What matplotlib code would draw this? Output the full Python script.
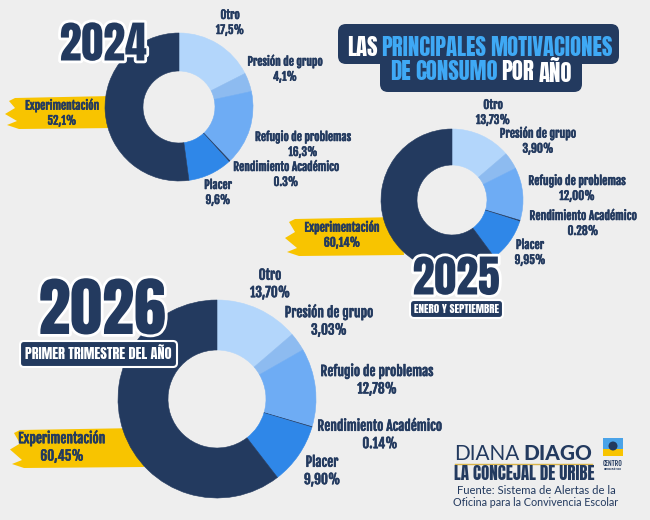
import numpy as np
import matplotlib.pyplot as plt
from matplotlib.patches import FancyBboxPatch, Polygon, Rectangle, Circle
import matplotlib.patheffects as pe

# datos
categorias = ["Otro", "Presión de grupo", "Refugio de problemas",
              "Rendimiento Académico", "Placer", "Experimentación"]
valores_2024 = [17.5, 4.1, 16.3, 0.3, 9.6, 52.1]
valores_2025 = [13.73, 3.90, 12.00, 0.28, 9.95, 60.14]
valores_2026 = [13.70, 3.03, 12.78, 0.14, 9.90, 60.45]
etiquetas_2024 = ["17,5%", "4,1%", "16,3%", "0.3%", "9,6%", "52,1%"]
etiquetas_2025 = ["13,73%", "3,90%", "12,00%", "0.28%", "9,95%", "60,14%"]
etiquetas_2026 = ["13,70%", "3,03%", "12,78%", "0.14%", "9,90%", "60,45%"]

W, H = 650, 520
NAVY = "#233a5f"
YELLOW = "#f8c400"
LIGHT = "#3fa9f5"
COLORES = ["#b3d6fb", "#8dbbf0", "#6eacf4", "#233a5f", "#2f87e8", "#233a5f"]
BIG = ["Anton", "Bebas Neue", "Oswald", "Roboto Condensed", "DejaVu Sans"]
LABEL = ["Fjalla One", "Oswald", "Roboto Condensed", "DejaVu Sans"]
FOOT = ["Lato", "DejaVu Sans"]

fig = plt.figure(figsize=(6.5, 5.2), dpi=100)
fig.patch.set_facecolor("#eeeeee")
ax = fig.add_axes([0, 0, 1, 1])
ax.set_xlim(0, W)
ax.set_ylim(0, H)
R = fig.canvas.get_renderer()
GRUESO = [pe.withStroke(linewidth=0.4, foreground=NAVY)]


def Y(py):
    return H - py


def ancho(t):
    return t.get_window_extent(R).width


def ajustar(t, objetivo):
    # escala la fuente para que el texto mida "objetivo" px de ancho
    t.set_fontsize(t.get_fontsize() * objetivo / ancho(t))


def brocha(x0, x1, y0, y1):
    ym = (y0 + y1) / 2
    pts = [(x0 + 10, y0 + 2), (x1, y0), (x1 + 4, y1), (x0 + 14, y1 + 1),
           (x0 + 2, y1 - 3), (x0 + 12, y1 - 7), (x0, ym + 2), (x0 + 10, ym - 4),
           (x0 + 4, y0 + 5)]
    ax.add_patch(Polygon([(x, Y(y)) for x, y in pts], closed=True,
                         facecolor=YELLOW, edgecolor="none", zorder=1))


def dona(vals, cx, cy, r, ri):
    wedges, _ = ax.pie(vals, colors=COLORES, startangle=90, counterclock=False,
                       radius=r, center=(cx, Y(cy)),
                       wedgeprops=dict(width=r - ri, linewidth=0.4, zorder=2))
    for w in wedges:
        w.set_edgecolor(w.get_facecolor())


def etiquetas(pcts, pos, ancho_exp, ls=1.2):
    # tamaño segun el ancho de "Experimentación" en la referencia
    t = ax.text(0, 0, categorias[-1], fontsize=10, family=LABEL, fontweight="bold")
    ajustar(t, ancho_exp)
    size = t.get_fontsize()
    t.remove()
    for cat, p, (x, y) in zip(categorias, pcts, pos):
        ax.text(x, Y(y), f"{cat}\n{p}", ha="center", va="center", fontsize=size,
                color=NAVY, fontweight="bold", family=LABEL, linespacing=ls, zorder=5,
                path_effects=GRUESO)


def anio(txt, x, y, w):
    t = ax.text(x, Y(y), txt, ha="center", va="center", fontsize=30, color=NAVY,
                fontweight="bold", family=BIG, zorder=8,
                path_effects=[pe.withStroke(linewidth=4, foreground="white")])
    ajustar(t, w)


def caja(x0, y0, x1, y1, txt, w):
    ax.add_patch(FancyBboxPatch((x0, Y(y1)), x1 - x0, y1 - y0,
                                boxstyle="round,pad=0,rounding_size=4",
                                facecolor=NAVY, edgecolor="white", linewidth=1.5, zorder=8))
    t = ax.text((x0 + x1) / 2, Y((y0 + y1) / 2), txt, ha="center", va="center",
                fontsize=8, color="white", fontweight="bold", family=BIG, zorder=9)
    ajustar(t, w)


def texto_color(xc, y, piezas, w, family, gap_em=0.25, **kw):
    # piezas: (texto, color, peso)
    ts = [ax.text(0, Y(y), s, color=c, fontweight=fw, fontsize=10, va="center",
                  ha="left", family=family, **kw) for s, c, fw in piezas]
    total = sum(ancho(t) for t in ts) + 10 * gap_em * (len(ts) - 1)
    size = 10 * w / total
    for t in ts:
        t.set_fontsize(size)
    anchos = [ancho(t) for t in ts]
    gap = size * gap_em
    x = xc - (sum(anchos) + gap * (len(ts) - 1)) / 2
    for t, a in zip(ts, anchos):
        t.set_x(x)
        x += a + gap


# manchas amarillas
brocha(5, 112, 96, 128)
brocha(285, 400, 217, 255)
brocha(10, 140, 428, 467)

# donas
dona(valores_2024, 179, 107, 74, 36)
dona(valores_2025, 452, 200, 71, 35)
dona(valores_2026, 217, 399, 99, 49)

etiquetas(etiquetas_2024,
          [(230, 23), (285, 69), (303, 145), (286, 175), (218, 193), (62, 113)], 74)
etiquetas(etiquetas_2025,
          [(493, 113), (538, 141), (577, 189), (583, 224), (530, 253), (342, 235)], 75)
etiquetas(etiquetas_2026,
          [(270, 284), (329, 321), (377, 380), (380, 435), (322, 471), (62, 447)], 87)

anio("2024", 103, 44, 87)
anio("2025", 456, 278, 87)
anio("2026", 102, 310, 127)
caja(410, 300, 503, 318, "ENERO Y SEPTIEMBRE", 85)
caja(20, 341, 177, 367, "PRIMER TRIMESTRE DEL AÑO", 147)

# titulo
for (x0, y0, x1, y1) in [(338, 24, 619, 64), (380, 50, 582, 92)]:
    ax.add_patch(FancyBboxPatch((x0, Y(y1)), x1 - x0, y1 - y0,
                                boxstyle="round,pad=0,rounding_size=8",
                                facecolor=NAVY, edgecolor="none", zorder=8))
texto_color(480, 47, [("LAS", "white", "bold"), ("PRINCIPALES", LIGHT, "bold"),
                      ("MOTIVACIONES", LIGHT, "bold")], 263, BIG, zorder=9)
texto_color(481, 72, [("DE", LIGHT, "bold"), ("CONSUMO", LIGHT, "bold"),
                      ("POR", "white", "bold"), ("AÑO", "white", "bold")], 180, BIG, zorder=9)

# pie de pagina
texto_color(523, 454, [("DIANA", NAVY, "normal"), ("DIAGO", NAVY, "black")], 137, FOOT,
            zorder=9)
ax.plot([455, 592], [Y(464), Y(464)], color="#d9b44a", lw=1, zorder=9)
t = ax.text(524, Y(474), "LA CONCEJAL DE URIBE", ha="center", va="center", fontsize=12,
            color=NAVY, fontweight="bold", family=BIG, zorder=9)
ajustar(t, 140)
for yy, s, w in [(491, "Fuente: Sistema de Alertas de la", 158),
                 (502, "Oficina para la Convivencia Escolar", 165)]:
    t = ax.text(536, Y(yy), s, ha="center", va="center", fontsize=7, color=NAVY,
                family=FOOT, zorder=9)
    ajustar(t, w)

# logo
ax.add_patch(Rectangle((603, Y(456)), 20, 18, facecolor="#4aa3e8", zorder=9))
ax.add_patch(Rectangle((603, Y(456)), 20, 7, facecolor=YELLOW, zorder=9))
ax.add_patch(Circle((613, Y(446)), 4.5, facecolor=NAVY, zorder=10))
ax.text(613, Y(463), "CENTRO", ha="center", va="center", fontsize=5, color=NAVY,
        fontweight="bold", family=LABEL, zorder=9)
ax.text(613, Y(468.5), "DEMOCRÁTICO", ha="center", va="center", fontsize=2.5,
        color=NAVY, family=LABEL, zorder=9)

ax.set_xlim(0, W)
ax.set_ylim(0, H)
ax.set_aspect("equal")
ax.axis("off")
fig.savefig("out.png", dpi=100, facecolor=fig.get_facecolor())
